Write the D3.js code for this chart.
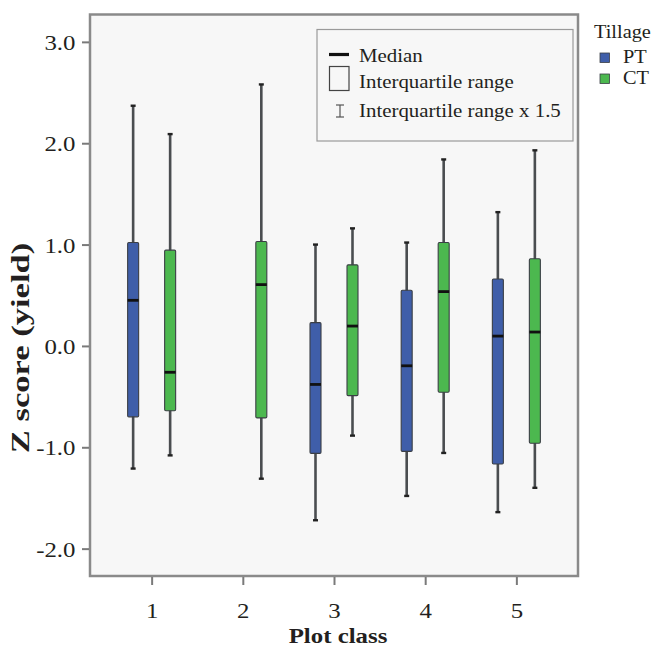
<!DOCTYPE html>
<html>
<head>
<meta charset="utf-8">
<script src="https://cdn.jsdelivr.net/npm/d3@7"></script>
<style>
  html, body { margin: 0; padding: 0; background: #ffffff; }
  svg { display: block; }
  text { font-family: "Liberation Serif", "Times New Roman", serif; fill: #231f20; }
</style>
</head>
<body>
<svg id="chart" width="654" height="648"></svg>
<script>
// ---- data ----
const categories = ["1", "2", "3", "4", "5"];
const series = ["PT", "CT"];
const seriesColors = ["#3f5ea9", "#4cb84f"];
const yTicks = [-2, -1, 0, 1, 2, 3];

// PT (no data for plot class 2)
const ptLow    = [-1.21, null, -1.72, -1.48, -1.64];
const ptQ1     = [-0.70, null, -1.06, -1.04, -1.165];
const ptMedian = [ 0.45, null, -0.38, -0.196, 0.097];
const ptQ3     = [ 1.02, null,  0.23,  0.55,  0.66];
const ptHigh   = [ 2.37, null,  1.00,  1.02,  1.32];

// CT
const ctLow    = [-1.08, -1.31, -0.885, -1.056, -1.40];
const ctQ1     = [-0.64, -0.71, -0.49,  -0.457, -0.96];
const ctMedian = [-0.26,  0.605, 0.196,  0.536,  0.137];
const ctQ3     = [ 0.945, 1.03,  0.80,   1.02,   0.86];
const ctHigh   = [ 2.09,  2.58,  1.16,   1.84,   1.93];

const legendItems = ["Median", "Interquartile range", "Interquartile range x 1.5"];

// ---- layout ----
const SX = 1.13; // horizontal stretch of the original figure's lettering
const frame = { left: 90, right: 578, top: 14.5, bottom: 576 };

const svg = d3.select("#chart");

const x = d3.scalePoint().domain(categories).range([frame.left, frame.right]).padding(0.676);
const dodge = d3.scaleBand().domain(series).range([-37, 37]);
const y = d3.scaleLinear().domain([-2.27, 3.27]).range([frame.bottom, frame.top]);

function stext(parent, x0, y0, str, opts = {}) {
  const t = parent.append("text")
    .attr("transform", `translate(${x0},${y0}) scale(${SX},1)` + (opts.rotate ? ` rotate(${opts.rotate})` : ""))
    .attr("text-anchor", opts.anchor || "start")
    .style("font-size", (opts.size || 18) + "px")
    .style("font-weight", opts.bold ? "bold" : "normal")
    .text(str);
  return t;
}

// plot background + frame
svg.append("rect")
  .attr("x", frame.left).attr("y", frame.top)
  .attr("width", frame.right - frame.left).attr("height", frame.bottom - frame.top)
  .attr("fill", "#f7f7f7").attr("stroke", "#8a8a8a").attr("stroke-width", 2.5);

// y axis
const yAxis = svg.append("g")
  .attr("transform", `translate(${frame.left - 1},0)`)
  .call(d3.axisLeft(y).tickValues(yTicks).tickFormat(d => d.toFixed(1)).tickSize(7).tickPadding(6));
yAxis.select(".domain").remove();
yAxis.selectAll(".tick line").attr("stroke", "#7a7a7a").attr("stroke-width", 2);
yAxis.selectAll(".tick text")
  .attr("font-family", null).attr("font-size", null)
  .style("font-size", "22px")
  .attr("dy", "0.34em")
  .attr("transform", `scale(${SX},1)`)
  .attr("x", -13.5 / SX);

// x axis
const xAxis = svg.append("g")
  .attr("transform", `translate(0,${frame.bottom + 1})`)
  .call(d3.axisBottom(x).tickSize(8).tickPadding(0));
xAxis.select(".domain").remove();
xAxis.selectAll(".tick line").attr("stroke", "#7a7a7a").attr("stroke-width", 2);
xAxis.selectAll(".tick text")
  .attr("font-family", null).attr("font-size", null)
  .style("font-size", "22px")
  .attr("y", 41).attr("dy", null)
  .attr("transform", `scale(${SX},1)`);

// axis titles
stext(svg, 338, 643, "Plot class", { anchor: "middle", size: 22, bold: true });
svg.append("text")
  .attr("transform", "translate(29,348) rotate(-90) scale(1.33,1)")
  .attr("text-anchor", "middle")
  .style("font-size", "26px").style("font-weight", "bold")
  .text("Z score (yield)");

// boxes
const stats = {
  PT: { low: ptLow, q1: ptQ1, med: ptMedian, q3: ptQ3, high: ptHigh },
  CT: { low: ctLow, q1: ctQ1, med: ctMedian, q3: ctQ3, high: ctHigh }
};
const boxW = 11;
const capW = 5;
const boxes = [];
series.forEach((s, si) => {
  categories.forEach((c, ci) => {
    const st = stats[s];
    if (st.med[ci] == null) return;
    boxes.push({
      cat: c, series: s, color: seriesColors[si],
      low: st.low[ci], q1: st.q1[ci], med: st.med[ci], q3: st.q3[ci], high: st.high[ci]
    });
  });
});

const g = svg.append("g");
const bx = d => x(d.cat) + dodge(d.series) + dodge.bandwidth() / 2;

const bg = g.selectAll("g.box").data(boxes).join("g").attr("class", "box");
// whisker
bg.append("line")
  .attr("x1", bx).attr("x2", bx)
  .attr("y1", d => y(d.high)).attr("y2", d => y(d.low))
  .attr("stroke", "#4a4d50").attr("stroke-width", 2.6);
// caps
bg.append("line")
  .attr("x1", d => bx(d) - capW / 2).attr("x2", d => bx(d) + capW / 2)
  .attr("y1", d => y(d.high)).attr("y2", d => y(d.high))
  .attr("stroke", "#222").attr("stroke-width", 2.4);
bg.append("line")
  .attr("x1", d => bx(d) - capW / 2).attr("x2", d => bx(d) + capW / 2)
  .attr("y1", d => y(d.low)).attr("y2", d => y(d.low))
  .attr("stroke", "#222").attr("stroke-width", 2.4);
// box
bg.append("rect")
  .attr("x", d => bx(d) - boxW / 2).attr("width", boxW)
  .attr("y", d => y(d.q3)).attr("height", d => y(d.q1) - y(d.q3))
  .attr("rx", 1.2)
  .attr("fill", d => d.color).attr("stroke", "#3b3f45").attr("stroke-width", 1.1);
// median
bg.append("line")
  .attr("x1", d => bx(d) - boxW / 2).attr("x2", d => bx(d) + boxW / 2)
  .attr("y1", d => y(d.med)).attr("y2", d => y(d.med))
  .attr("stroke", "#111").attr("stroke-width", 2.8);

// explanation legend box
const lg = svg.append("g");
lg.append("rect").attr("x", 317).attr("y", 29.5).attr("width", 256).attr("height", 111.5)
  .attr("fill", "#f7f7f7").attr("stroke", "#9a9a9a").attr("stroke-width", 1.2);
lg.append("line").attr("x1", 329).attr("x2", 349).attr("y1", 54.5).attr("y2", 54.5)
  .attr("stroke", "#111").attr("stroke-width", 3.2);
lg.append("rect").attr("x", 329.5).attr("y", 66.5).attr("width", 19.5).attr("height", 24)
  .attr("fill", "none").attr("stroke", "#444").attr("stroke-width", 1.2);
lg.append("line").attr("x1", 340).attr("x2", 340).attr("y1", 105).attr("y2", 117).attr("stroke", "#555").attr("stroke-width", 1.2);
lg.append("line").attr("x1", 336).attr("x2", 344).attr("y1", 105).attr("y2", 105).attr("stroke", "#555").attr("stroke-width", 1.2);
lg.append("line").attr("x1", 336).attr("x2", 344).attr("y1", 117).attr("y2", 117).attr("stroke", "#555").attr("stroke-width", 1.2);
const legendY = [62, 88, 116.5];
legendItems.forEach((t, i) => stext(lg, 359, legendY[i], t, { size: 18.5 }));

// Tillage legend
const tg = svg.append("g");
stext(tg, 594, 38, "Tillage", { size: 18 });
series.forEach((s, i) => {
  const yy = 53 + i * 21;
  tg.append("rect").attr("x", 600).attr("y", yy).attr("width", 9.5).attr("height", 9.5)
    .attr("fill", seriesColors[i]).attr("stroke", "#3b3f45").attr("stroke-width", 0.8);
  stext(tg, 623, yy + 10, s, { size: 18 });
});
</script>
</body>
</html>
